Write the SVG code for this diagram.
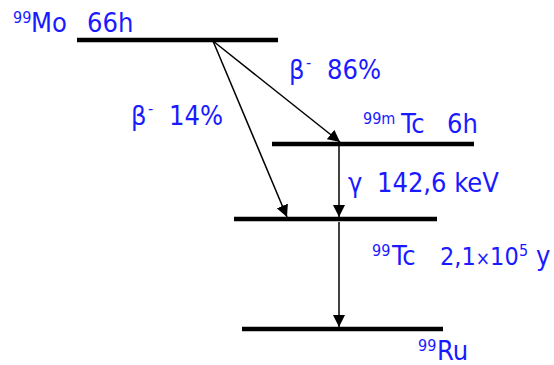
<svg xmlns="http://www.w3.org/2000/svg" width="554" height="365" viewBox="0 0 554 365">
<style>
.lvl{stroke:#000;stroke-width:4.5;fill:none}
.arr{stroke:#000;stroke-width:1.5;fill:none;marker-end:url(#ah)}
text{font-family:"DejaVu Sans Condensed","DejaVu Sans",sans-serif;fill:#1a1aff;font-size:27px}
.sup{font-size:16px}
.x{font-size:19px}
</style>
<defs>
<marker id="ah" markerUnits="userSpaceOnUse" markerWidth="12" markerHeight="12" refX="12" refY="6" orient="auto">
<path d="M0,0 L12,6 L0,12 z" fill="#000"/>
</marker>
</defs>
<rect width="554" height="365" fill="#fff"/>
<g id="mo99">
<line class="lvl" x1="77" y1="40" x2="278" y2="40"/>
<text class="sup" x="13" y="23">99</text>
<text x="31" y="32">Mo</text>
<text x="87" y="32">66h</text>
</g>
<g id="tc99m">
<line class="lvl" x1="272" y1="144" x2="474" y2="144"/>
<text class="sup" x="363" y="124">99m</text>
<text x="401" y="133">Tc</text>
<text x="447" y="133">6h</text>
</g>
<g id="tc99">
<line class="lvl" x1="234" y1="219" x2="437" y2="219"/>
<text class="sup" x="372" y="256">99</text>
<text x="392" y="265">Tc</text>
<text x="440" y="265" style="font-size:25px">2,1<tspan class="x">×</tspan>10</text>
<text class="sup" x="519" y="256">5</text>
<text x="536" y="265">y</text>
</g>
<g id="ru99">
<line class="lvl" x1="242" y1="329" x2="443" y2="329"/>
<text class="sup" x="418" y="351">99</text>
<text x="437" y="360">Ru</text>
</g>
<g id="connectors">
<line class="arr" x1="213" y1="41" x2="287" y2="217"/>
<line class="arr" x1="213" y1="41" x2="340" y2="142"/>
<line class="arr" x1="339" y1="146" x2="339" y2="217"/>
<line class="arr" x1="339" y1="222" x2="339" y2="327"/>
<text x="289" y="79">β</text>
<text class="sup" x="306" y="68">-</text>
<text x="327" y="79">86%</text>
<text x="131" y="125">β</text>
<text class="sup" x="148" y="114">-</text>
<text x="169" y="125">14%</text>
<text x="348" y="192">γ</text>
<text x="377" y="192">142,6 keV</text>
</g>
</svg>
